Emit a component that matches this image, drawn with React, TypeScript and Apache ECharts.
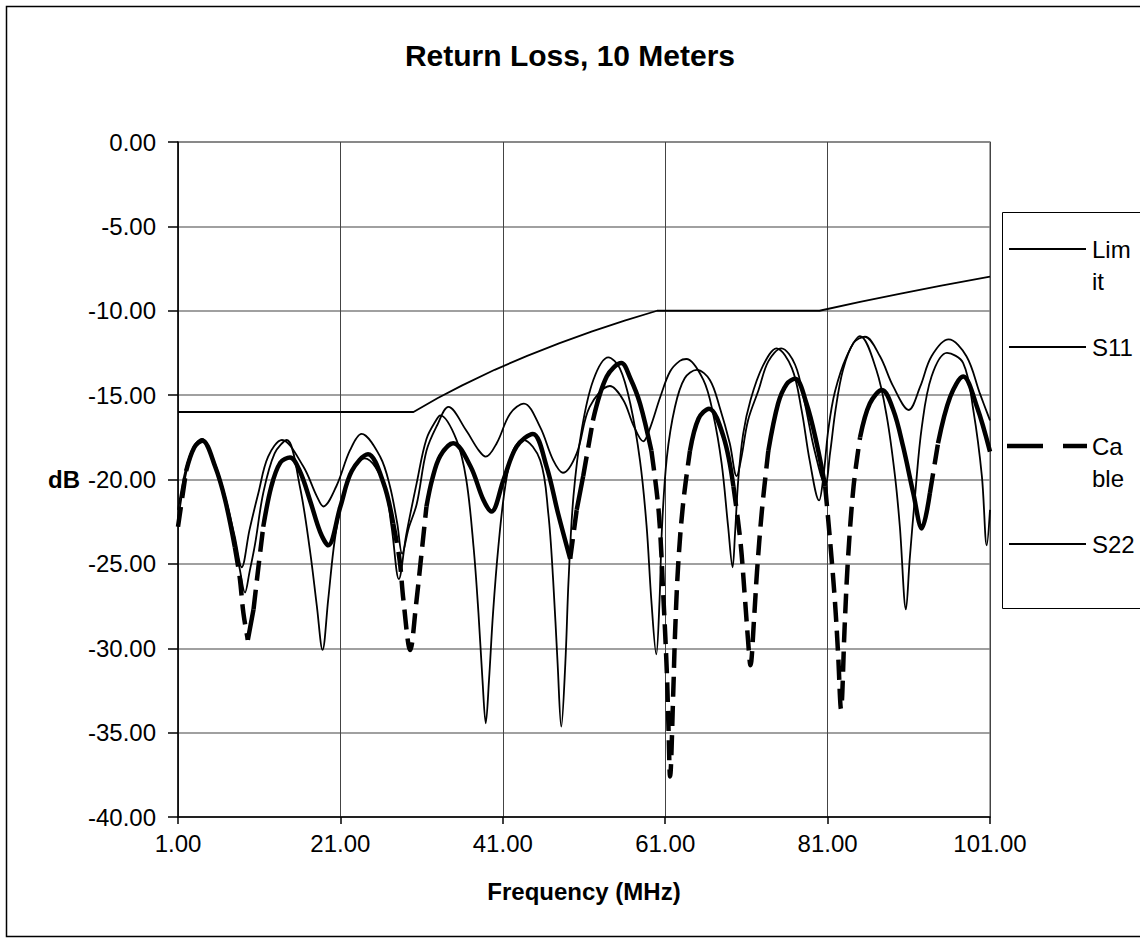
import React, { useEffect, useRef } from 'react';
import * as echarts from 'echarts';

// ---- data ----
const xTickValues = [1, 21, 41, 61, 81, 101];

const limitFreq = [1, 30, 33, 36, 40, 44, 48, 52, 56, 60, 80, 85, 90, 95, 101];
const limitDb = [-16, -16, -15.17, -14.42, -13.5, -12.67, -11.92, -11.22, -10.58, -10.0, -10.0, -9.47, -8.98, -8.51, -7.98];

const s11Freq = [1, 2, 3, 3.9, 5.5, 6.8, 8, 8.85, 9.8, 10.9, 12.1, 13.8, 16.4, 18.1, 18.9, 20.5, 22.2, 23.6, 25.9, 27.1, 28, 28.6, 29.4, 30.4, 31.6, 32.9, 34.3, 36.5, 38, 38.9, 40.25, 41.9, 43.6, 45.6, 47.2, 48.4, 50.1, 51.7, 54.2, 55.85, 57.1, 58.3, 59.1, 60.4, 61.6, 62.8, 63.6, 65.7, 66.9, 67.95, 68.75, 69.3, 69.6, 70, 70.6, 71.5, 73, 74.7, 76.6, 77.8, 78.8, 79.95, 80.5, 81.1, 81.9, 83.35, 85, 87, 88.3, 89.3, 89.9, 90.65, 91.1, 91.8, 92.6, 93.8, 95.7, 97.7, 98.95, 100, 100.6, 101];
const s11Db = [-21.8, -19.3, -18.0, -17.6, -19.0, -21.0, -23.4, -25.2, -23.0, -20.8, -18.65, -17.66, -19.2, -21.0, -21.6, -20.4, -18.25, -17.3, -18.65, -20.4, -22.6, -24.4, -22.9, -21.45, -18.3, -16.8, -15.7, -17.1, -18.25, -18.65, -17.85, -16.1, -15.5, -16.9, -18.85, -19.6, -18.45, -15.7, -14.46, -15.3, -16.8, -17.74, -17.0, -15.1, -13.6, -12.97, -12.86, -14.1, -16.1, -19.05, -22.8, -25.2, -23.2, -20.0, -17.3, -15.3, -13.3, -12.23, -13.4, -15.9, -18.9, -21.24, -19.75, -17.0, -14.8, -12.7, -11.5, -13.5, -16.3, -19.8, -22.8, -27.7, -24.8, -20.8, -16.9, -13.9, -12.5, -13.1, -15.9, -19.8, -23.9, -21.8];

const cableFreq = [1, 2, 3, 4, 5.55, 6.8, 8, 8.6, 9.05, 9.6, 10.3, 10.9, 11.5, 12.5, 13.6, 14.8, 16, 17.3, 18.5, 19.5, 21, 22.4, 24.4, 26.3, 27.5, 28.3, 28.75, 29.6, 30.3, 30.9, 31.6, 32.3, 33.3, 34.9, 37, 38.6, 39.6, 41.1, 42.7, 44.7, 46.4, 47.8, 49.3, 50.1, 50.9, 52.1, 53.8, 55.6, 56.7, 57.9, 59.3, 60.2, 60.8, 61.2, 61.4, 61.6, 62, 62.2, 62.6, 63.2, 64.05, 65.1, 66.4, 68.2, 69.4, 70.25, 70.8, 71.2, 71.5, 71.95, 72.3, 72.9, 73.7, 74.9, 75.95, 77, 78.4, 79.65, 80.7, 81.3, 81.9, 82.3, 82.65, 83.1, 83.5, 84.2, 85, 86.2, 87.7, 89.1, 90.3, 91.55, 92.6, 93.6, 94.6, 96.1, 97.7, 99.4, 101];
const cableDb = [-22.8, -19.5, -18.1, -17.7, -19.2, -21.2, -24.0, -25.8, -27.9, -29.5, -27.7, -25.2, -22.8, -20.4, -19.0, -18.7, -19.5, -21.3, -23.1, -23.9, -21.6, -19.5, -18.5, -20.2, -22.6, -24.8, -27.1, -30.1, -27.5, -24.8, -21.6, -20.0, -18.6, -17.85, -19.2, -21.2, -21.9, -20.0, -18.05, -17.3, -19.25, -22.0, -24.7, -21.8, -19.8, -16.5, -13.9, -13.1, -14.0, -15.5, -18.3, -21.9, -27.2, -31.4, -34.6, -37.6, -32.5, -29.3, -25.05, -21.45, -18.3, -16.4, -15.8, -17.5, -20.4, -23.6, -26.9, -29.5, -31.0, -28.2, -25.5, -21.9, -18.3, -15.5, -14.35, -14.03, -15.5, -17.85, -20.4, -23.6, -27.2, -30.4, -33.6, -28.7, -24.8, -20.4, -17.5, -15.5, -14.7, -15.9, -18.05, -20.8, -22.9, -20.8, -17.85, -15.1, -13.9, -15.7, -18.35];

const s22Freq = [1, 2, 3, 4, 5.5, 6.8, 8, 8.6, 9.25, 9.8, 10.5, 11.5, 12.9, 14.4, 16, 17.25, 18.1, 18.8, 19.5, 20.3, 21.4, 22.8, 24, 26.3, 27.3, 28.2, 29.1, 30.4, 31.6, 32.9, 33.3, 35.3, 36.5, 37.4, 38, 38.5, 38.9, 39.3, 39.8, 40.45, 41.3, 42.3, 43.5, 45.6, 46.6, 47.2, 47.75, 48.2, 48.7, 49.1, 49.7, 50.7, 52.15, 54, 55.4, 56.7, 57.9, 58.7, 59.3, 59.9, 60.3, 60.6, 61.2, 62.2, 63.4, 64.9, 66.5, 67.7, 68.95, 69.8, 70.4, 71.2, 72.5, 73.7, 75.3, 77, 78.2, 79.4, 80.7, 81.3, 82, 82.9, 84.2, 85.6, 87.45, 89.1, 91, 92.4, 93.8, 95.9, 98.1, 99.75, 101];
const s22Db = [-22.4, -19.6, -18.1, -17.6, -19.1, -21.3, -23.8, -25.3, -26.7, -25.5, -23.8, -20.8, -18.45, -17.66, -20.4, -24.2, -27.5, -30.1, -27.1, -23.6, -20.8, -19.2, -18.75, -20.2, -22.8, -25.9, -23.3, -20.2, -17.6, -16.4, -16.2, -17.65, -20.0, -24.0, -27.9, -31.9, -34.45, -31.9, -27.9, -24.0, -20.4, -18.25, -17.65, -18.85, -22.0, -25.95, -30.9, -34.65, -30.9, -25.95, -21.0, -17.1, -14.1, -12.76, -13.4, -15.5, -18.9, -22.7, -27.2, -30.36, -27.2, -22.9, -18.7, -15.7, -14.0, -13.5, -14.1, -15.7, -17.85, -19.8, -18.65, -16.5, -14.7, -13.0, -12.23, -13.2, -15.5, -18.3, -20.3, -18.45, -15.8, -13.5, -11.9, -11.54, -12.7, -14.5, -15.88, -14.5, -12.7, -11.7, -12.7, -14.9, -16.5];

const legendLabels = ['Lim\nit', 'S11', 'Ca\nble', 'S22'];

// ---- helpers ----
const FONT = '"Liberation Sans", Arial, Helvetica, sans-serif';

function pairs(fs: number[], vs: number[]) {
  return fs.map((f, i) => [f, vs[i]]);
}

// Split a curve into runs of shallow and steep segments (steep ones drawn dashed)
function splitBySlope(fs: number[], vs: number[], threshold: number, wantSteep: boolean) {
  const out: any[] = [];
  let prevIncluded = false;
  for (let i = 0; i < fs.length - 1; i++) {
    const slope = Math.abs((vs[i + 1] - vs[i]) / (fs[i + 1] - fs[i]));
    const steep = slope > threshold;
    if (steep === wantSteep) {
      if (!prevIncluded) {
        if (out.length) out.push([fs[i], '-']);
        out.push([fs[i], vs[i]]);
      }
      out.push([fs[i + 1], vs[i + 1]]);
      prevIncluded = true;
    } else {
      prevIncluded = false;
    }
  }
  return out;
}

export default function App() {
  const ref = useRef<HTMLDivElement>(null);

  useEffect(() => {
    document.body.style.margin = '0';
    const chart = echarts.init(ref.current!, null, { renderer: 'svg' });

    const thin = { color: '#000', width: 1.8 };
    const thick = 4.5;

    const legendYs = [249, 347, 446, 544];
    const legendGraphics: any[] = [
      {
        type: 'rect',
        shape: { x: 1002.5, y: 212.5, width: 160, height: 396 },
        style: { fill: '#fff', stroke: '#000', lineWidth: 1 },
        z: 100,
      },
    ];
    legendLabels.forEach((lab, i) => {
      const y = legendYs[i];
      if (i === 2) {
        legendGraphics.push({ type: 'line', shape: { x1: 1007, y1: y, x2: 1043, y2: y }, style: { stroke: '#000', lineWidth: thick }, z: 101 });
        legendGraphics.push({ type: 'line', shape: { x1: 1063, y1: y, x2: 1087, y2: y }, style: { stroke: '#000', lineWidth: thick }, z: 101 });
      } else {
        legendGraphics.push({ type: 'line', shape: { x1: 1009, y1: y, x2: 1086, y2: y }, style: { stroke: '#000', lineWidth: 1.8 }, z: 101 });
      }
      legendGraphics.push({
        type: 'text',
        x: 1092,
        y: y - 16,
        z: 101,
        style: { text: lab, fill: '#000', fontSize: 24, fontFamily: FONT, lineHeight: 32, verticalAlign: 'top', align: 'left' },
      });
    });

    const option: any = {
      animation: false,
      backgroundColor: '#fff',
      title: {
        text: 'Return Loss, 10 Meters',
        left: 'center',
        top: 40,
        padding: 0,
        textStyle: { fontSize: 30, fontWeight: 'bold', fontFamily: FONT, color: '#000' },
      },
      grid: {
        left: 178,
        top: 142,
        width: 812,
        height: 675,
        show: true,
        borderColor: '#888',
        borderWidth: 1.5,
        backgroundColor: 'transparent',
      },
      xAxis: {
        type: 'value',
        min: 1,
        max: 101,
        axisLine: { show: true, onZero: false, lineStyle: { color: '#000', width: 1.5 } },
        axisTick: { show: true, customValues: xTickValues, length: 7, lineStyle: { color: '#000', width: 1.5 } },
        axisLabel: {
          customValues: xTickValues,
          formatter: (v: number) => v.toFixed(2),
          fontSize: 24,
          fontFamily: FONT,
          color: '#000',
          margin: 14,
        },
        splitLine: { show: true, lineStyle: { color: '#444', width: 1 } },
        name: 'Frequency (MHz)',
        nameLocation: 'middle',
        nameGap: 62,
        nameTextStyle: { fontSize: 24, fontWeight: 'bold', fontFamily: FONT, color: '#000' },
      },
      yAxis: {
        type: 'value',
        min: -40,
        max: 0,
        interval: 5,
        axisLine: { show: true, onZero: false, lineStyle: { color: '#000', width: 1.5 } },
        axisTick: { show: true, length: 10, lineStyle: { color: '#000', width: 1.5 } },
        axisLabel: {
          formatter: (v: number) => v.toFixed(2),
          fontSize: 24,
          fontFamily: FONT,
          color: '#000',
          margin: 22,
        },
        splitLine: { show: true, lineStyle: { color: '#808080', width: 1.5 } },
        name: 'dB',
        nameLocation: 'middle',
        nameRotate: 0,
        nameGap: 98,
        nameTextStyle: { fontSize: 24, fontWeight: 'bold', fontFamily: FONT, color: '#000' },
      },
      series: [
        {
          name: 'Limit',
          type: 'line',
          data: pairs(limitFreq, limitDb),
          symbol: 'none',
          smooth: false,
          lineStyle: thin,
        },
        {
          name: 'S11',
          type: 'line',
          data: pairs(s11Freq, s11Db),
          symbol: 'none',
          smooth: 0.35,
          lineStyle: thin,
        },
        {
          name: 'Cable',
          type: 'line',
          data: splitBySlope(cableFreq, cableDb, 2.6, false),
          symbol: 'none',
          smooth: 0.35,
          connectNulls: false,
          lineStyle: { color: '#000', width: thick },
        },
        {
          name: 'Cable (steep)',
          type: 'line',
          data: splitBySlope(cableFreq, cableDb, 2.6, true),
          symbol: 'none',
          smooth: 0.35,
          connectNulls: false,
          lineStyle: { color: '#000', width: thick, type: [20, 9] },
        },
        {
          name: 'S22',
          type: 'line',
          data: pairs(s22Freq, s22Db),
          symbol: 'none',
          smooth: 0.35,
          lineStyle: thin,
        },
      ],
      graphic: [
        {
          type: 'rect',
          shape: { x: 6.5, y: 6.5, width: 1160, height: 930 },
          style: { fill: 'none', stroke: '#000', lineWidth: 1.5 },
          silent: true,
          z: 99,
        },
        ...legendGraphics,
      ],
    };

    chart.setOption(option);
    return () => chart.dispose();
  }, []);

  return <div ref={ref} style={{ width: 1140, height: 943 }} />;
}
